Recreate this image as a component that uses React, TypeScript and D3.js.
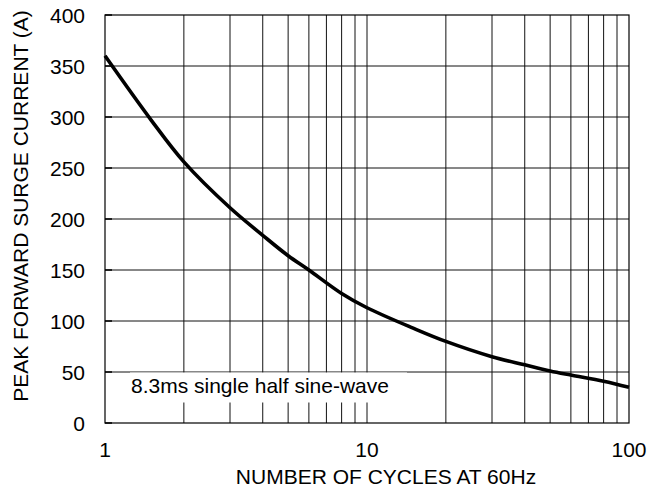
import * as d3 from "d3";

// Surge current curve
const cycles = [1, 1.5, 2, 3, 4, 5, 6, 8, 10, 15, 20, 30, 40, 50, 60, 80, 100];
const current = [360, 297, 256, 211, 184, 164, 150, 127, 113, 93, 80, 65, 57, 51, 47, 41, 35];

const yTicks = [0, 50, 100, 150, 200, 250, 300, 350, 400];
const xTickLabels = [1, 10, 100];
const xGrid = [2, 3, 4, 5, 6, 7, 8, 9, 10, 20, 30, 40, 50, 60, 70, 80, 90];

const W = 664;
const H = 492;
const PLOT = { left: 105, right: 629, top: 15, bottom: 423 };
const FONT = "Liberation Sans, Arial, Helvetica, sans-serif";

export default function App() {
  const x = d3.scaleLog().domain([1, 100]).range([PLOT.left, PLOT.right]);
  const y = d3.scaleLinear().domain([0, 400]).range([PLOT.bottom, PLOT.top]);

  const pts = cycles.map((c, i) => [c, current[i]] as [number, number]);
  const line = d3
    .line<[number, number]>()
    .x((d) => x(d[0]))
    .y((d) => y(d[1]))
    .curve(d3.curveCatmullRom.alpha(0.5));

  return (
    <svg
      width={W}
      height={H}
      style={{ position: "fixed", top: 0, left: 0, background: "#fff" }}
      fontFamily={FONT}
    >
      <rect x={0} y={0} width={W} height={H} fill="#fff" />

      {/* grid */}
      {xGrid.map((v) => (
        <line key={"gx" + v} x1={x(v)} x2={x(v)} y1={PLOT.top} y2={PLOT.bottom} stroke="#111" strokeWidth={1} />
      ))}
      {yTicks.slice(1, -1).map((v) => (
        <line key={"gy" + v} x1={PLOT.left} x2={PLOT.right} y1={y(v)} y2={y(v)} stroke="#111" strokeWidth={1} />
      ))}

      {/* annotation box */}
      <rect x={130} y={y(50) + 0.5} width={277} height={30} fill="#fff" />
      <text x={131} y={393} fontSize={21} fill="#000">
        8.3ms single half sine-wave
      </text>

      {/* frame and inward ticks */}
      <rect
        x={PLOT.left}
        y={PLOT.top}
        width={PLOT.right - PLOT.left}
        height={PLOT.bottom - PLOT.top}
        fill="none"
        stroke="#000"
        strokeWidth={1.2}
      />
      {yTicks.map((v) => (
        <line key={"t" + v} x1={PLOT.left} x2={PLOT.left + 7} y1={y(v)} y2={y(v)} stroke="#000" strokeWidth={1.5} />
      ))}

      {/* curve */}
      <path d={line(pts) ?? ""} fill="none" stroke="#000" strokeWidth={3.6} />

      {/* y tick labels */}
      {yTicks.map((v) => (
        <text key={"yl" + v} x={85} y={y(v)} dy="0.36em" textAnchor="end" fontSize={21} fill="#000">
          {v}
        </text>
      ))}

      {/* x tick labels */}
      {xTickLabels.map((v) => (
        <text key={"xl" + v} x={x(v)} y={457} textAnchor="middle" fontSize={21} fill="#000">
          {v}
        </text>
      ))}

      {/* axis titles */}
      <text x={386} y={484} textAnchor="middle" fontSize={21} fill="#000">
        NUMBER OF CYCLES AT 60Hz
      </text>
      <text
        transform="translate(28,206) rotate(-90)"
        textAnchor="middle"
        fontSize={21}
        fill="#000"
      >
        PEAK FORWARD SURGE CURRENT (A)
      </text>
    </svg>
  );
}
